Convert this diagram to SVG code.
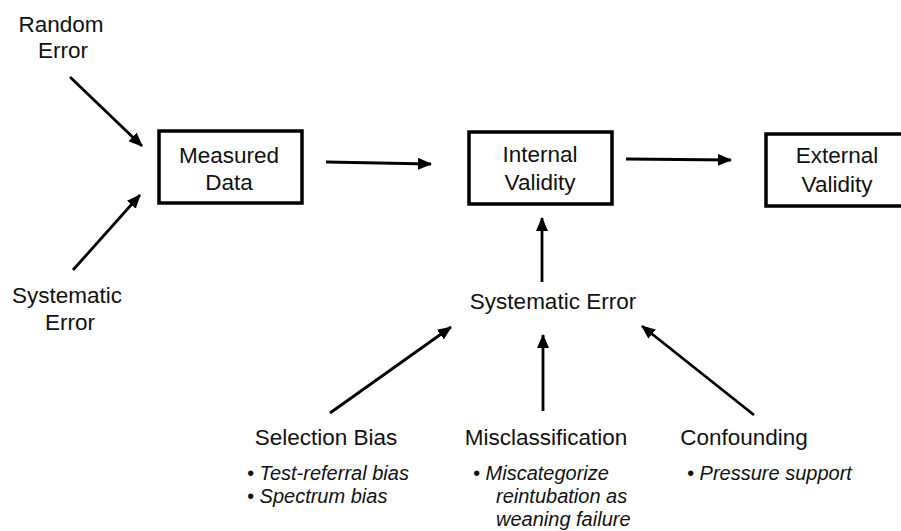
<svg xmlns="http://www.w3.org/2000/svg" width="901" height="531" viewBox="0 0 901 531">
<defs>
<marker id="ah" markerUnits="userSpaceOnUse" markerWidth="14" markerHeight="12" refX="13" refY="6" orient="auto">
<path d="M0,0 L14,6 L0,12 Z" fill="#000"/>
</marker>
</defs>
<style>
text{font-family:"Liberation Sans",Arial,sans-serif;fill:#111;}
.lbl{font-size:22.5px;text-anchor:middle;}
.sub{font-size:20px;font-style:italic;}
.box{fill:#fff;stroke:#000;stroke-width:3.5;}
.con{stroke:#000;stroke-width:2.8;fill:none;marker-end:url(#ah);}
</style>
<rect width="901" height="531" fill="#fff"/>
<g id="connectors">
<line class="con" x1="70" y1="77" x2="142" y2="146"/>
<line class="con" x1="73" y1="270" x2="140" y2="195"/>
<line class="con" x1="326" y1="162" x2="431" y2="164"/>
<line class="con" x1="626" y1="159" x2="731" y2="160"/>
<line class="con" x1="542" y1="282" x2="542" y2="218"/>
<line class="con" x1="330" y1="413" x2="451" y2="327"/>
<line class="con" x1="543" y1="411" x2="543" y2="335"/>
<line class="con" x1="754" y1="415" x2="642" y2="326"/>
</g>
<g id="random-error">
<text class="lbl" x="61" y="32">Random</text>
<text class="lbl" x="63" y="58">Error</text>
</g>
<g id="systematic-error-left">
<text class="lbl" x="67" y="303">Systematic</text>
<text class="lbl" x="70" y="330">Error</text>
</g>
<g id="measured-data">
<rect class="box" x="159" y="131" width="143" height="72"/>
<text class="lbl" x="229" y="163">Measured</text>
<text class="lbl" x="229" y="190">Data</text>
</g>
<g id="internal-validity">
<rect class="box" x="469" y="132" width="143" height="72"/>
<text class="lbl" x="540" y="162">Internal</text>
<text class="lbl" x="540" y="190">Validity</text>
</g>
<g id="external-validity">
<rect class="box" x="766" y="134" width="140" height="72"/>
<text class="lbl" x="837" y="163">External</text>
<text class="lbl" x="837" y="192">Validity</text>
</g>
<g id="systematic-error">
<text class="lbl" x="553" y="309">Systematic Error</text>
</g>
<g id="selection-bias">
<text class="lbl" x="326" y="445">Selection Bias</text>
<text class="sub" x="247" y="480">• Test-referral bias</text>
<text class="sub" x="247" y="503">• Spectrum bias</text>
</g>
<g id="misclassification">
<text class="lbl" x="546" y="445">Misclassification</text>
<text class="sub" x="473" y="480">• Miscategorize</text>
<text class="sub" x="496" y="503">reintubation as</text>
<text class="sub" x="496" y="526">weaning failure</text>
</g>
<g id="confounding">
<text class="lbl" x="744" y="445">Confounding</text>
<text class="sub" x="687" y="480">• Pressure support</text>
</g>
</svg>
